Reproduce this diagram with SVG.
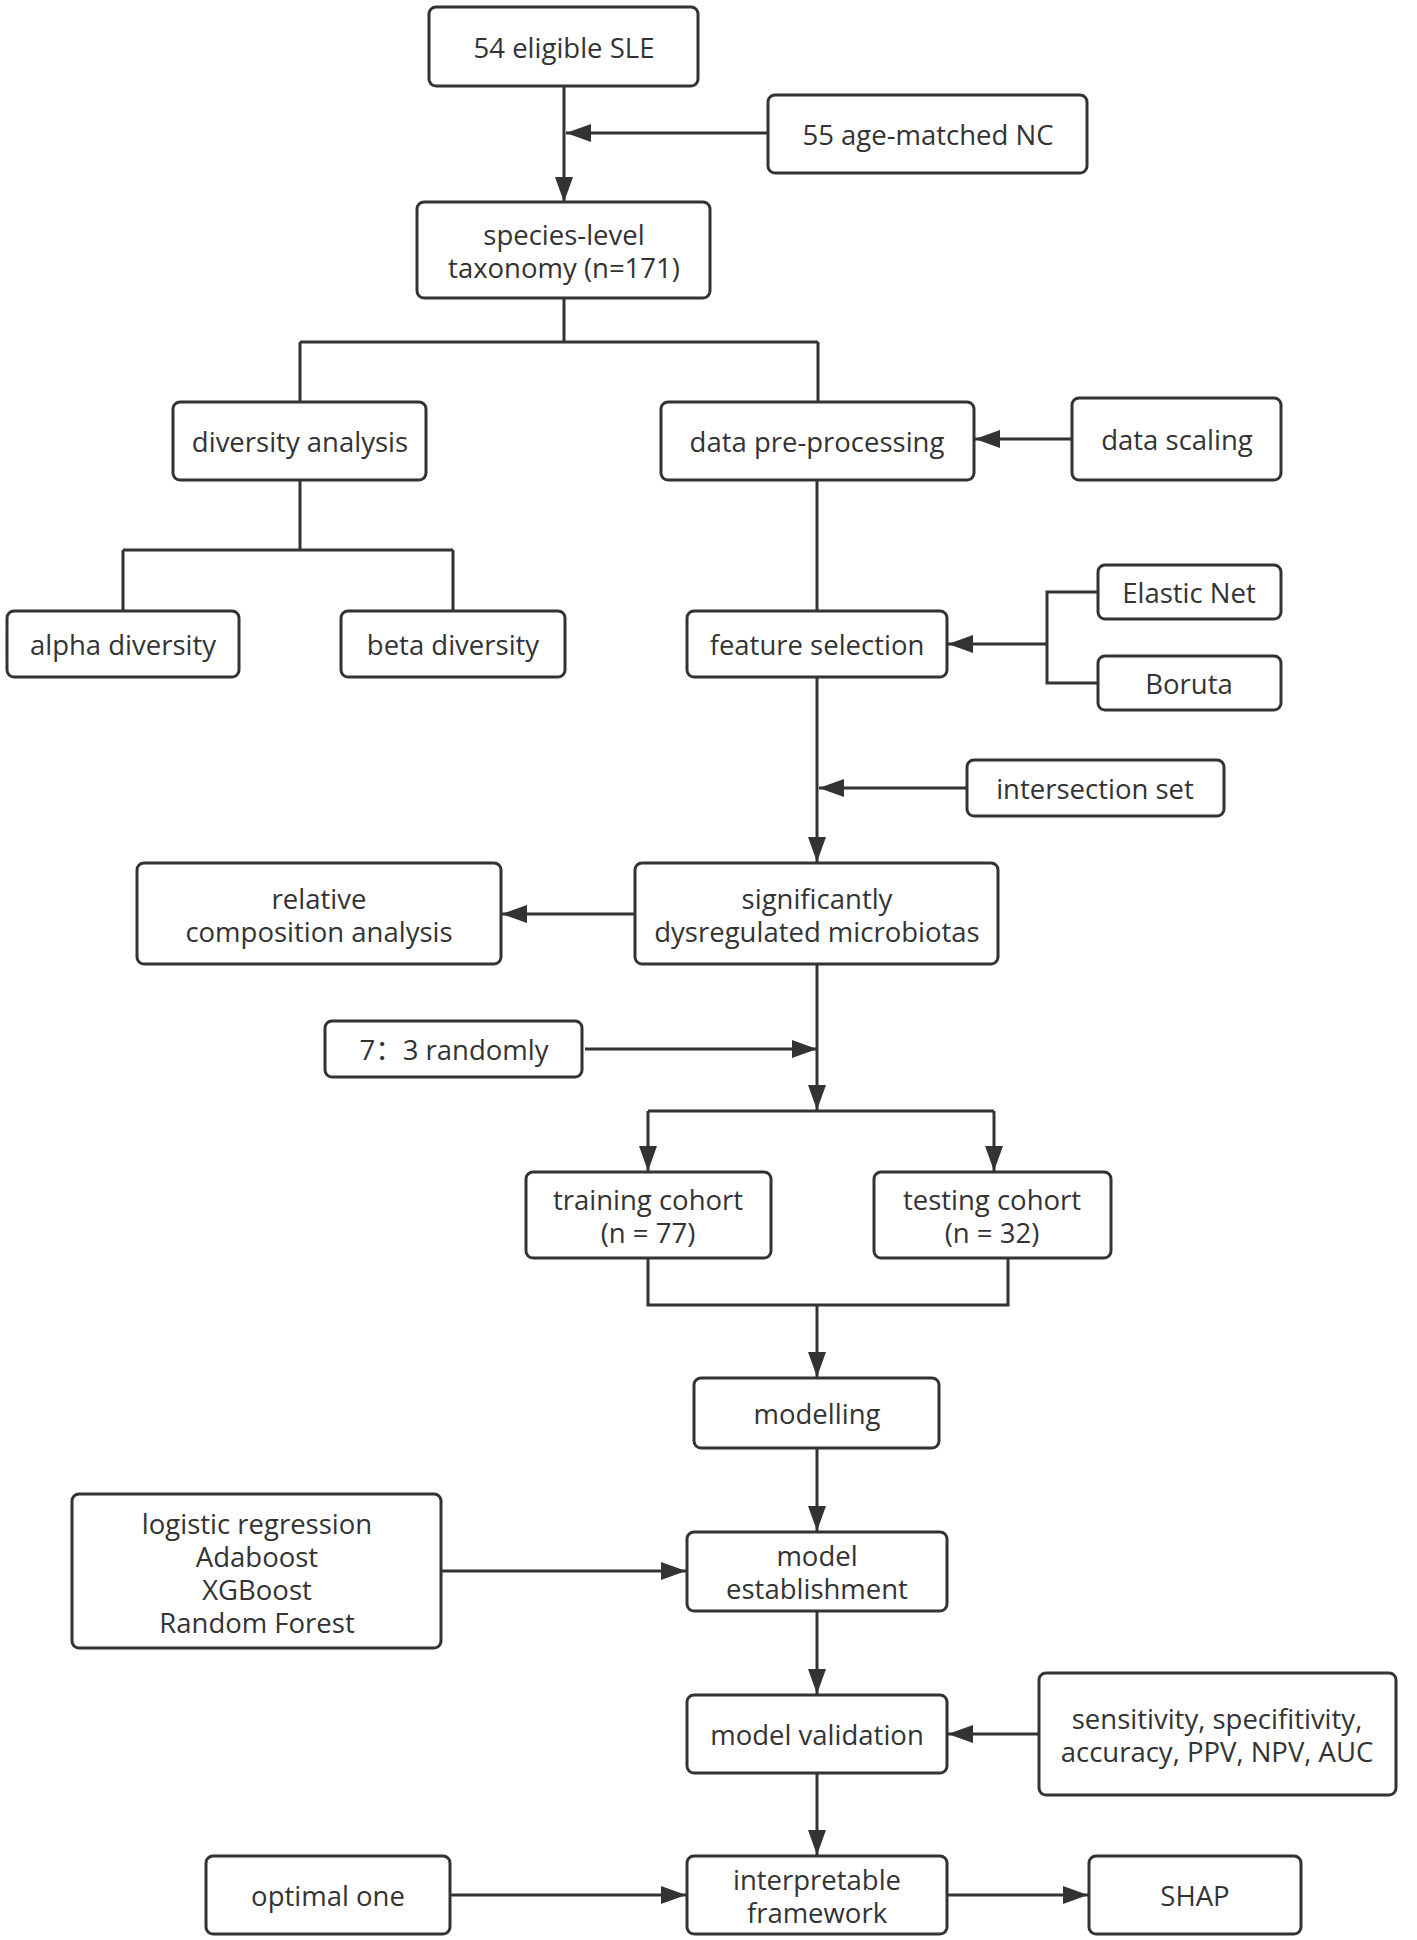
<svg xmlns="http://www.w3.org/2000/svg" width="1417" height="1940" viewBox="0 0 1417 1940">
<style>
.box{fill:#fff;stroke:#333;stroke-width:3}
.t{font-family:"Open Sans","Noto Sans CJK SC","Noto Sans","Liberation Sans",sans-serif;font-size:27.5px;fill:#333;text-anchor:middle}
.c{fill:none;stroke:#333;stroke-width:3}
</style>
<defs>
<marker id="ah" markerUnits="userSpaceOnUse" markerWidth="26" markerHeight="18" refX="25" refY="9" orient="auto" viewBox="0 0 26 18">
<path d="M0,0 L25,9 L0,18 Z" fill="#333"/>
</marker>
</defs>
<rect width="1417" height="1940" fill="#fff"/>
<g id="connectors">
<path class="c" d="M564,86 V202" marker-end="url(#ah)"/>
<path class="c" d="M768,133 H566" marker-end="url(#ah)"/>
<path class="c" d="M564,298 V342 M300,342 H818 M300,342 V402 M818,342 V402"/>
<path class="c" d="M1072,439 H975" marker-end="url(#ah)"/>
<path class="c" d="M300,480 V550 M123,550 H453 M123,550 V611 M453,550 V611"/>
<path class="c" d="M817,480 V611"/>
<path class="c" d="M1098,592 H1047 V683 H1098"/>
<path class="c" d="M1047,644 H948" marker-end="url(#ah)"/>
<path class="c" d="M817,677 V862" marker-end="url(#ah)"/>
<path class="c" d="M967,788 H819" marker-end="url(#ah)"/>
<path class="c" d="M635,914 H502" marker-end="url(#ah)"/>
<path class="c" d="M817,964 V1110" marker-end="url(#ah)"/>
<path class="c" d="M585,1049 H817" marker-end="url(#ah)"/>
<path class="c" d="M648,1111 H994"/>
<path class="c" d="M648,1111 V1171" marker-end="url(#ah)"/>
<path class="c" d="M994,1111 V1171" marker-end="url(#ah)"/>
<path class="c" d="M648,1258 V1305 H1008 V1258"/>
<path class="c" d="M817,1305 V1377" marker-end="url(#ah)"/>
<path class="c" d="M817,1448 V1531" marker-end="url(#ah)"/>
<path class="c" d="M441,1571 H686" marker-end="url(#ah)"/>
<path class="c" d="M817,1611 V1694" marker-end="url(#ah)"/>
<path class="c" d="M1039,1734 H948" marker-end="url(#ah)"/>
<path class="c" d="M817,1773 V1855" marker-end="url(#ah)"/>
<path class="c" d="M450,1895 H686" marker-end="url(#ah)"/>
<path class="c" d="M947,1895 H1088" marker-end="url(#ah)"/>
</g>
<g id="n1"><rect class="box" x="429" y="7" width="269" height="79" rx="7"/><text class="t" x="564" y="58">54 eligible SLE</text></g>
<g id="n2"><rect class="box" x="768" y="95" width="319" height="78" rx="7"/><text class="t" x="928" y="145">55 age-matched NC</text></g>
<g id="n3"><rect class="box" x="417" y="202" width="293" height="96" rx="7"/><text class="t" x="564" y="245">species-level</text><text class="t" x="564" y="278">taxonomy (n=171)</text></g>
<g id="n4"><rect class="box" x="173" y="402" width="253" height="78" rx="7"/><text class="t" x="300" y="452">diversity analysis</text></g>
<g id="n5"><rect class="box" x="661" y="402" width="313" height="78" rx="7"/><text class="t" x="817" y="452">data pre-processing</text></g>
<g id="n6"><rect class="box" x="1072" y="398" width="209" height="82" rx="7"/><text class="t" x="1177" y="450">data scaling</text></g>
<g id="n7"><rect class="box" x="7" y="611" width="232" height="66" rx="7"/><text class="t" x="123" y="655">alpha diversity</text></g>
<g id="n8"><rect class="box" x="341" y="611" width="224" height="66" rx="7"/><text class="t" x="453" y="655">beta diversity</text></g>
<g id="n9"><rect class="box" x="687" y="611" width="260" height="66" rx="7"/><text class="t" x="817" y="655">feature selection</text></g>
<g id="n10"><rect class="box" x="1098" y="565" width="183" height="54" rx="7"/><text class="t" x="1189" y="603">Elastic Net</text></g>
<g id="n11"><rect class="box" x="1098" y="656" width="183" height="54" rx="7"/><text class="t" x="1189" y="694">Boruta</text></g>
<g id="n12"><rect class="box" x="967" y="760" width="257" height="56" rx="7"/><text class="t" x="1095" y="799">intersection set</text></g>
<g id="n13"><rect class="box" x="137" y="863" width="364" height="101" rx="7"/><text class="t" x="319" y="909">relative</text><text class="t" x="319" y="942">composition analysis</text></g>
<g id="n14"><rect class="box" x="635" y="863" width="363" height="101" rx="7"/><text class="t" x="817" y="909">significantly</text><text class="t" x="817" y="942">dysregulated microbiotas</text></g>
<g id="n15"><rect class="box" x="325" y="1021" width="257" height="56" rx="7"/><text class="t" x="454" y="1060">7：3 randomly</text></g>
<g id="n16"><rect class="box" x="526" y="1172" width="245" height="86" rx="7"/><text class="t" x="648" y="1210">training cohort</text><text class="t" x="648" y="1243">(n = 77)</text></g>
<g id="n17"><rect class="box" x="874" y="1172" width="237" height="86" rx="7"/><text class="t" x="992" y="1210">testing cohort</text><text class="t" x="992" y="1243">(n = 32)</text></g>
<g id="n18"><rect class="box" x="694" y="1378" width="245" height="70" rx="7"/><text class="t" x="817" y="1424">modelling</text></g>
<g id="n19"><rect class="box" x="72" y="1494" width="369" height="154" rx="7"/><text class="t" x="257" y="1534">logistic regression</text><text class="t" x="257" y="1567">Adaboost</text><text class="t" x="257" y="1600">XGBoost</text><text class="t" x="257" y="1633">Random Forest</text></g>
<g id="n20"><rect class="box" x="687" y="1532" width="260" height="79" rx="7"/><text class="t" x="817" y="1566">model</text><text class="t" x="817" y="1599">establishment</text></g>
<g id="n21"><rect class="box" x="687" y="1695" width="260" height="78" rx="7"/><text class="t" x="817" y="1745">model validation</text></g>
<g id="n22"><rect class="box" x="1039" y="1673" width="357" height="122" rx="7"/><text class="t" x="1217" y="1729">sensitivity, specifitivity,</text><text class="t" x="1217" y="1762">accuracy, PPV, NPV, AUC</text></g>
<g id="n23"><rect class="box" x="206" y="1856" width="244" height="78" rx="7"/><text class="t" x="328" y="1906">optimal one</text></g>
<g id="n24"><rect class="box" x="687" y="1856" width="260" height="78" rx="7"/><text class="t" x="817" y="1890">interpretable</text><text class="t" x="817" y="1923">framework</text></g>
<g id="n25"><rect class="box" x="1089" y="1856" width="212" height="78" rx="7"/><text class="t" x="1195" y="1906">SHAP</text></g>
</svg>
